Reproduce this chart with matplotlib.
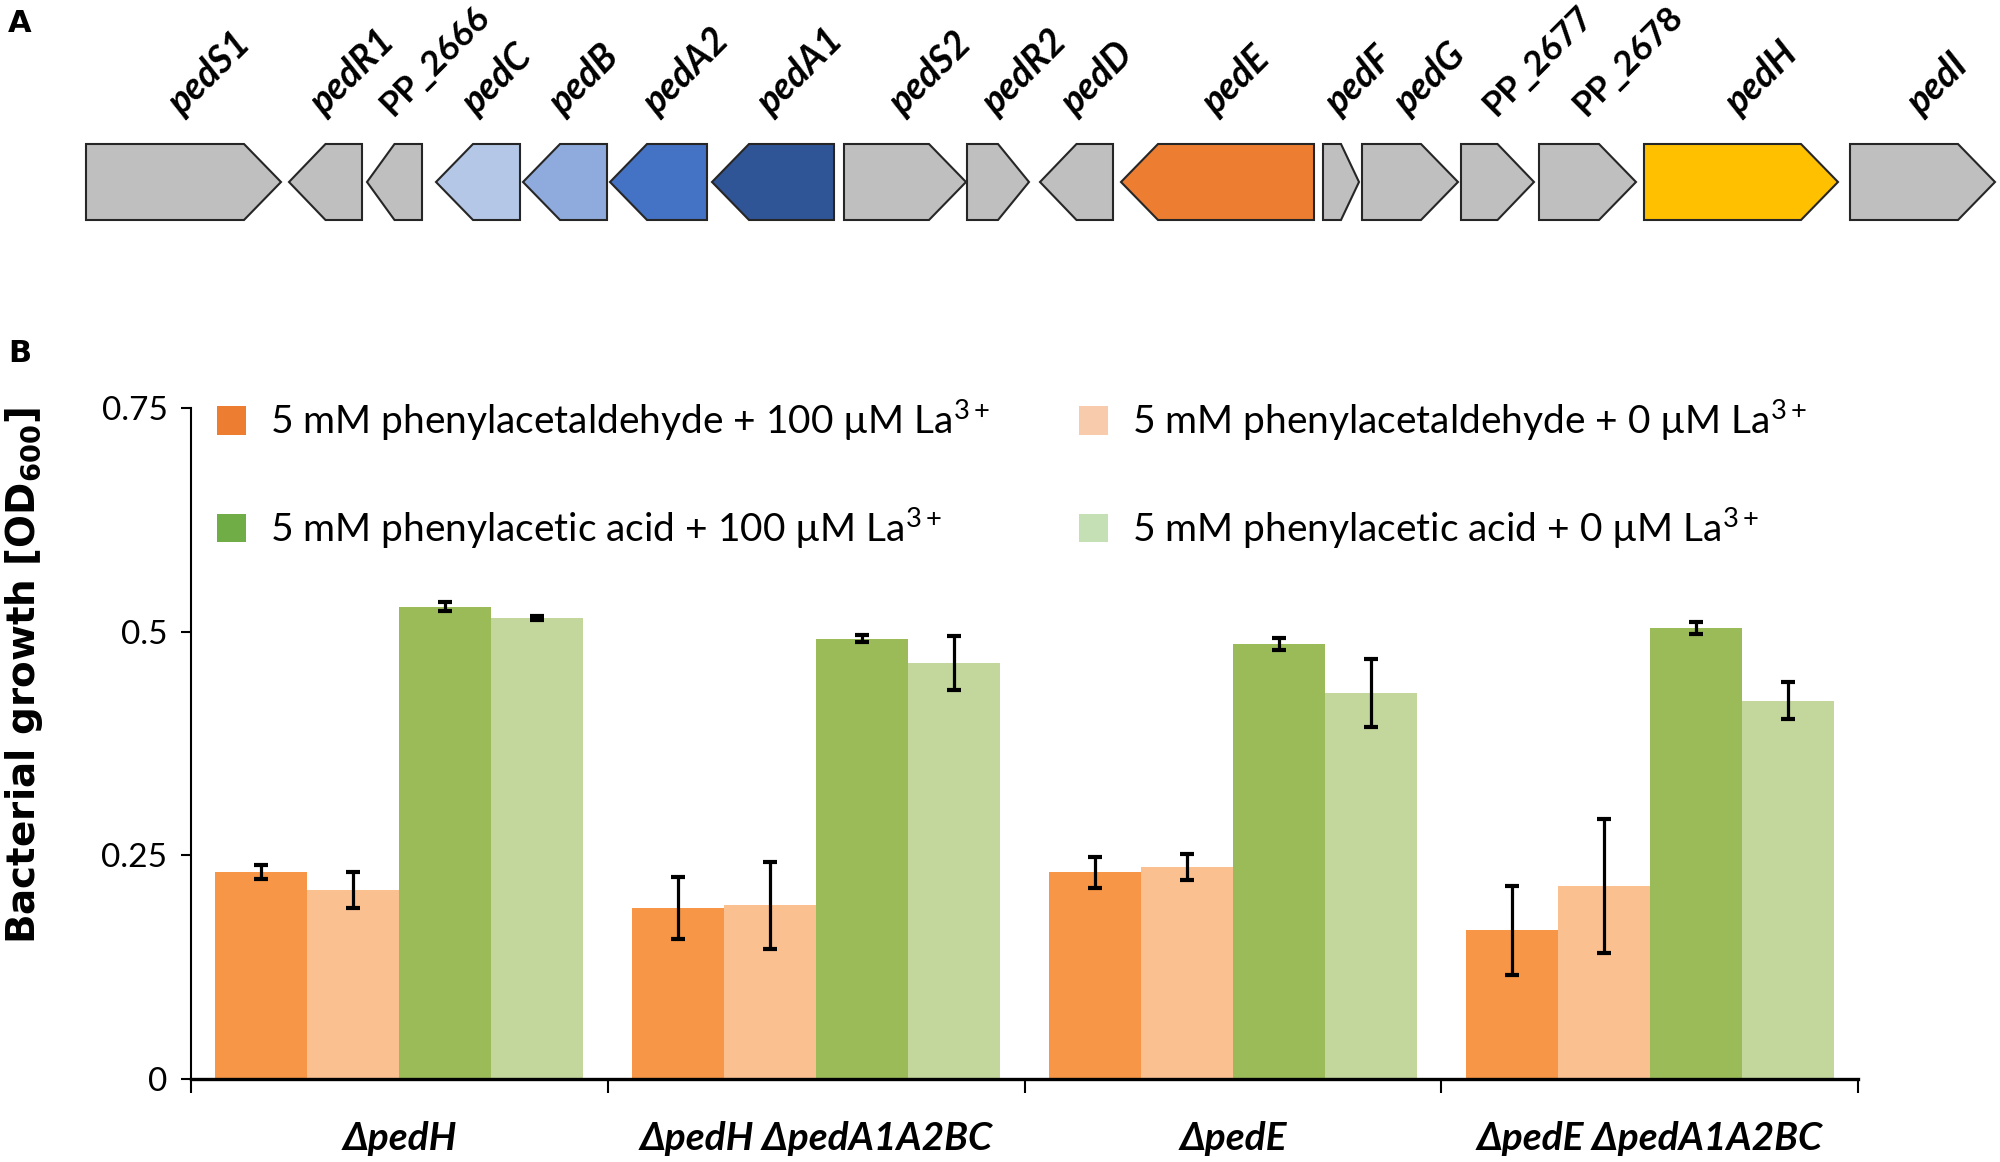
import matplotlib
matplotlib.use("Agg")
import matplotlib.pyplot as plt
from matplotlib.patches import Polygon, Patch
import numpy as np

plt.rcParams['font.family'] = ['Lato', 'DejaVu Sans']
plt.rcParams['mathtext.fontset'] = 'custom'
plt.rcParams['mathtext.rm'] = 'Lato'
plt.rcParams['mathtext.it'] = 'Lato:italic'
plt.rcParams['mathtext.bf'] = 'DejaVu Sans:bold'

##########################################################
# panel A: ped gene cluster (positions)
gene_names = ["pedS1", "pedR1", "PP_2666", "pedC", "pedB", "pedA2", "pedA1", "pedS2", "pedR2",
              "pedD", "pedE", "pedF", "pedG", "PP_2677", "PP_2678", "pedH", "pedI"]
gene_start = [86, 289, 367, 436, 523, 610, 712, 844, 967, 1040, 1121, 1323, 1362, 1461, 1539, 1644, 1850]
gene_end = [281, 362, 422, 520, 607, 707, 834, 966, 1029, 1113, 1314, 1359, 1458, 1534, 1636, 1838, 1995]
gene_strand = [1, -1, -1, -1, -1, -1, -1, 1, 1, -1, -1, 1, 1, 1, 1, 1, 1]
gene_colors = ["#BFBFBF", "#BFBFBF", "#BFBFBF", "#B4C7E7", "#8FAADC", "#4472C4", "#2F5597", "#BFBFBF",
               "#BFBFBF", "#BFBFBF", "#ED7D31", "#BFBFBF", "#BFBFBF", "#BFBFBF", "#BFBFBF", "#FFC000",
               "#BFBFBF"]

# panel B: growth data
strains = ["ΔpedH", "ΔpedH ΔpedA1A2BC", "ΔpedE", "ΔpedE ΔpedA1A2BC"]
series = ["5 mM phenylacetaldehyde + 100 µM La$^{3+}$",
          "5 mM phenylacetaldehyde + 0 µM La$^{3+}$",
          "5 mM phenylacetic acid + 100 µM La$^{3+}$",
          "5 mM phenylacetic acid + 0 µM La$^{3+}$"]
ald_100 = [0.231, 0.191, 0.231, 0.166]
ald_100_err = [0.008, 0.035, 0.017, 0.050]
ald_0 = [0.211, 0.194, 0.237, 0.216]
ald_0_err = [0.020, 0.049, 0.015, 0.075]
acid_100 = [0.528, 0.492, 0.486, 0.504]
acid_100_err = [0.005, 0.004, 0.007, 0.007]
acid_0 = [0.515, 0.465, 0.431, 0.423]
acid_0_err = [0.002, 0.030, 0.038, 0.021]

bar_colors = ["#F79646", "#FAC090", "#9BBB59", "#C3D69B"]
legend_colors = ["#ED7D31", "#F8CBAD", "#70AD47", "#C5E0B4"]
##########################################################
W, H = 2000, 1162
fig = plt.figure(figsize=(20, 11.62), dpi=100)

# ---- panel A
axa = fig.add_axes([0, 1 - 260 / H, 1, 260 / H])
axa.set_xlim(0, W)
axa.set_ylim(260, 0)
axa.axis("off")
top, bot = 144, 220
mid = (top + bot) / 2
for name, s, e, d, c in zip(gene_names, gene_start, gene_end, gene_strand, gene_colors):
    head = min(37, (e - s) / 2)
    if d > 0:
        pts = [(s, top), (e - head, top), (e, mid), (e - head, bot), (s, bot)]
    else:
        pts = [(s, mid), (s + head, top), (e, top), (e, bot), (s + head, bot)]
    axa.add_patch(Polygon(pts, closed=True, facecolor=c, edgecolor="#262626", linewidth=1.5))
    if name.startswith("PP_"):
        style, size = "normal", 25
    else:
        style, size = "italic", 27
    axa.text((s + e) / 2 - 2, 117, name, rotation=45, rotation_mode="anchor", ha="left",
             va="baseline", fontsize=size, fontweight="bold", fontstyle=style, clip_on=False)

fig.text(8 / W, 1 - 23 / H, "A", fontsize=22, fontweight="bold", family="DejaVu Sans",
         ha="left", va="center")
fig.text(8 / W, 1 - 353 / H, "B", fontsize=22, fontweight="bold", family="DejaVu Sans",
         ha="left", va="center")

# ---- panel B
ax = fig.add_axes([191 / W, 1 - 1079 / H, (1858 - 191) / W, (1079 - 408) / H])
x = np.arange(1, len(strains) + 1)
w = 0.2208
vals = [ald_100, ald_0, acid_100, acid_0]
errs = [ald_100_err, ald_0_err, acid_100_err, acid_0_err]
for i, (v, er, c) in enumerate(zip(vals, errs, bar_colors)):
    ax.bar(x + (i - 1.5) * w, v, width=w, color=c, linewidth=0, zorder=2)
    ax.errorbar(x + (i - 1.5) * w, v, yerr=er, fmt="none", ecolor="black", elinewidth=2.3,
                capsize=5, capthick=3, zorder=3)

ax.set_xlim(0.5, len(strains) + 0.5)
ax.set_ylim(0, 0.75)
ax.set_yticks([0, 0.25, 0.5, 0.75])
ax.set_yticklabels(["0", "0.25", "0.5", "0.75"])
ax.tick_params(axis="y", direction="out", length=7, width=1.5, pad=10, labelsize=24)
ax.set_xticks(np.arange(0.5, len(strains) + 1, 1))
ax.set_xticklabels([])
ax.tick_params(axis="x", which="major", direction="out", length=10, width=1.5)
ax.set_xticks(x, minor=True)
ax.set_xticklabels(strains, minor=True, fontsize=28, fontweight="bold", fontstyle="italic")
ax.tick_params(axis="x", which="minor", length=0, pad=30)
for sp in ["top", "right"]:
    ax.spines[sp].set_visible(False)
ax.spines["left"].set_linewidth(1.5)
ax.spines["bottom"].set_linewidth(2.4)

fig.text(24 / W, 1 - 676 / H, "Bacterial growth [OD$_{\\mathbf{600}}$]", rotation=90,
         fontsize=28, fontweight="bold", family="DejaVu Sans", ha="center", va="center")

handles = [Patch(facecolor=c, edgecolor="none") for c in legend_colors]
order = [0, 2, 1, 3]
ax.legend([handles[i] for i in order], [series[i] for i in order], ncol=2, frameon=False,
          loc="upper left", bbox_to_anchor=(217 / W, 1 - 398 / H), bbox_transform=fig.transFigure,
          fontsize=28, handlelength=0.75, handleheight=0.75, handletextpad=0.6,
          labelspacing=1.6, columnspacing=2.3, borderpad=0, borderaxespad=0)

fig.savefig("out.png", dpi=100)
